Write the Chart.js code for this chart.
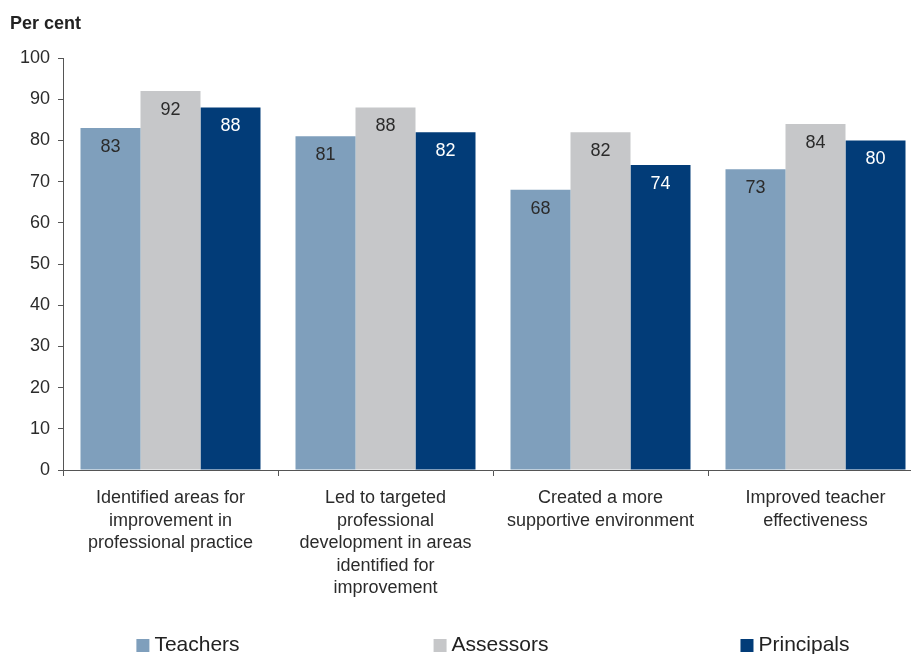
<!DOCTYPE html>
<html><head><meta charset="utf-8">
<script src="https://cdn.jsdelivr.net/npm/chart.js@4/dist/chart.umd.min.js"></script>
<style>html,body{margin:0;padding:0;background:#fff;overflow:hidden;width:911px;height:654px}canvas{display:block}</style>
</head><body>
<canvas id="c" width="930" height="654"></canvas>
<script>
const categories = [
  ["Identified areas for","improvement in","professional practice"],
  ["Led to targeted","professional","development in areas","identified for","improvement"],
  ["Created a more","supportive environment"],
  ["Improved teacher","effectiveness"]
];
const seriesNames = ["Teachers","Assessors","Principals"];
const teachers = [83,81,68,73];
const assessors = [92,88,82,84];
const principals = [88,82,74,80];
const yTicks = [0,10,20,30,40,50,60,70,80,90,100];
const colors = ["#7f9fbc","#c6c7c9","#023c78"];
const labelColors = ["#2b2b2b","#2b2b2b","#ffffff"];
const FONT = "'Liberation Sans', Arial, sans-serif";

const extras = {
  id:'extras',
  afterDatasetsDraw(chart){
    const ctx = chart.ctx;
    ctx.save();
    ctx.font = "18px " + FONT;
    ctx.textAlign = 'center';
    ctx.textBaseline = 'middle';
    chart.data.datasets.forEach((ds,i)=>{
      const meta = chart.getDatasetMeta(i);
      meta.data.forEach((bar,j)=>{
        ctx.fillStyle = labelColors[i];
        ctx.fillText(String(ds.data[j]), bar.x, bar.y + 19);
      });
    });
    ctx.restore();
  },
  afterDraw(chart){
    const ctx = chart.ctx;
    ctx.save();
    ctx.fillStyle = '#222';
    ctx.font = "bold 18px " + FONT;
    ctx.textAlign = 'left';
    ctx.textBaseline = 'middle';
    ctx.fillText('Per cent', 10, 24);
    // legend
    ctx.font = "21px " + FONT;
    const centers = [188, 491, 795];
    chart.data.datasets.forEach((ds,i)=>{
      const tw = ctx.measureText(ds.label).width;
      const total = 13 + 5 + tw;
      const x0 = centers[i] - total/2;
      ctx.fillStyle = ds.backgroundColor;
      ctx.fillRect(x0, 639, 13, 13);
      ctx.fillStyle = '#222';
      ctx.fillText(ds.label, x0 + 18, 645);
    });
    ctx.restore();
  }
};

new Chart(document.getElementById('c'), {
  type:'bar',
  data:{
    labels: categories,
    datasets:[
      {label:seriesNames[0], data:teachers, backgroundColor:colors[0]},
      {label:seriesNames[1], data:assessors, backgroundColor:colors[1]},
      {label:seriesNames[2], data:principals, backgroundColor:colors[2]}
    ]
  },
  options:{
    responsive:false,
    animation:false,
    layout:{padding:{top:58,left:0,right:7,bottom:34}},
    datasets:{bar:{categoryPercentage:180/215, barPercentage:1}},
    plugins:{legend:{display:false}, title:{display:false}, tooltip:{enabled:false}},
    scales:{
      x:{
        grid:{drawOnChartArea:false, offset:true, tickLength:6, color:'#555'},
        border:{color:'#555', width:1},
        ticks:{font:{family:FONT,size:18,lineHeight:1.25}, color:'#2b2b2b', padding:11, maxRotation:0, autoSkip:false},
        afterFit(s){ s.height = 150; }
      },
      y:{
        min:0, max:100,
        afterBuildTicks(s){ s.ticks = yTicks.map(v=>({value:v})); },
        grid:{drawOnChartArea:false, tickLength:5, color:'#555'},
        border:{color:'#555', width:1},
        ticks:{font:{family:FONT,size:18}, color:'#2b2b2b', padding:8},
        afterFit(s){ s.width = 63; }
      }
    }
  },
  plugins:[extras]
});
</script>
</body></html>
